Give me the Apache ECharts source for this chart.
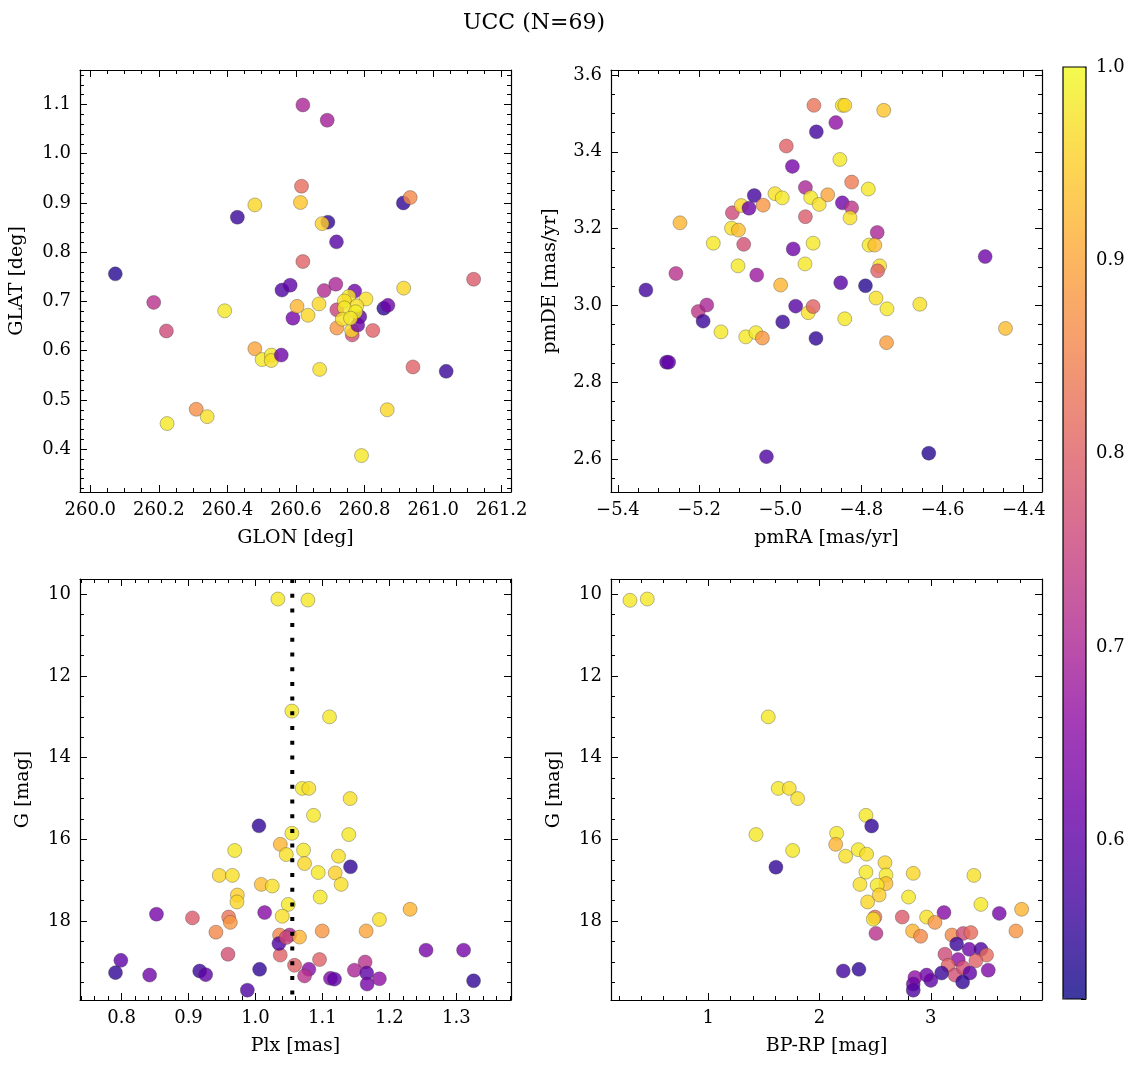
<!DOCTYPE html>
<html>
<head>
<meta charset="utf-8">
<script src="https://cdn.jsdelivr.net/npm/echarts@6/dist/echarts.min.js"></script>
<style>html,body{margin:0;padding:0;background:#fff}#c{width:1136px;height:1067px}</style>
</head>
<body>
<div id="c"></div>
<script>
// ---- data: [x, y, membership probability] ----
const posData = [ // GLON, GLAT
[260.073,0.756,0.54],[260.185,0.698,0.72],[260.222,0.640,0.76],[260.224,0.452,0.98],[260.309,0.481,0.87],
[260.341,0.466,0.97],[260.392,0.681,0.98],[260.429,0.871,0.56],[260.480,0.896,0.96],[260.480,0.604,0.90],
[260.501,0.582,0.98],[260.528,0.591,0.98],[260.528,0.580,0.97],[260.557,0.591,0.62],[260.559,0.723,0.58],
[260.583,0.733,0.60],[260.591,0.666,0.63],[260.620,1.099,0.70],[260.691,1.068,0.69],[260.616,0.934,0.82],
[260.613,0.901,0.94],[260.693,0.861,0.55],[260.676,0.858,0.95],[260.718,0.821,0.59],[260.620,0.781,0.80],
[260.913,0.900,0.55],[260.933,0.911,0.86],[261.118,0.745,0.79],[260.914,0.727,0.96],[260.682,0.722,0.71],
[260.716,0.735,0.70],[260.603,0.690,0.92],[260.667,0.695,0.96],[260.635,0.672,0.96],[260.669,0.562,0.97],
[260.866,0.480,0.96],[260.791,0.387,0.98],[260.941,0.567,0.80],[261.038,0.558,0.56],[260.856,0.686,0.55],
[260.868,0.692,0.62],[260.824,0.641,0.80],[260.719,0.646,0.88],[260.764,0.632,0.77],[260.762,0.641,0.96],
[260.771,0.721,0.62],[260.786,0.669,0.60],[260.780,0.652,0.62],[260.719,0.683,0.75],[260.754,0.710,0.98],
[260.804,0.705,0.97],[260.741,0.701,0.97],[260.777,0.691,0.97],[260.741,0.687,0.98],[260.774,0.679,0.99],
[260.735,0.664,0.97],[260.759,0.666,0.98]
];
const pmData = [ // pmRA, pmDE
[-5.331,3.040,0.57],[-5.280,2.852,0.60],[-5.275,2.852,0.60],[-5.257,3.083,0.72],[-5.247,3.215,0.92],
[-5.202,2.984,0.73],[-5.181,3.001,0.70],[-5.190,2.959,0.56],[-5.165,3.162,0.98],[-5.146,2.931,0.98],
[-5.118,3.241,0.76],[-5.120,3.201,0.97],[-5.103,3.196,0.93],[-5.096,3.260,0.96],[-5.104,3.103,0.98],
[-5.090,3.159,0.77],[-5.085,2.918,0.98],[-5.077,3.253,0.62],[-5.064,3.286,0.57],[-5.060,2.929,0.98],
[-5.058,3.079,0.68],[-5.044,2.915,0.88],[-5.042,3.261,0.88],[-5.034,2.606,0.58],[-5.013,3.291,0.97],
[-4.999,3.053,0.92],[-4.995,3.280,0.98],[-4.994,2.957,0.56],[-4.985,3.415,0.80],[-4.970,3.362,0.63],
[-4.968,3.147,0.62],[-4.962,2.998,0.59],[-4.939,3.108,0.98],[-4.938,3.231,0.79],[-4.938,3.307,0.70],
[-4.931,2.981,0.97],[-4.925,3.281,0.98],[-4.919,2.997,0.80],[-4.919,3.162,0.98],[-4.917,3.521,0.83],
[-4.911,3.452,0.57],[-4.912,2.914,0.55],[-4.904,3.263,0.97],[-4.863,3.476,0.66],[-4.847,3.521,0.98],
[-4.841,3.521,0.96],[-4.745,3.508,0.94],[-4.853,3.380,0.98],[-4.824,3.321,0.84],[-4.783,3.303,0.98],
[-4.883,3.288,0.90],[-4.847,3.267,0.62],[-4.824,3.254,0.73],[-4.828,3.228,0.97],[-4.761,3.190,0.70],
[-4.781,3.157,0.98],[-4.767,3.157,0.93],[-4.495,3.127,0.62],[-4.755,3.103,0.97],[-4.760,3.090,0.80],
[-4.851,3.059,0.59],[-4.790,3.051,0.54],[-4.764,3.019,0.97],[-4.656,3.003,0.97],[-4.737,2.991,0.98],
[-4.841,2.965,0.98],[-4.445,2.940,0.93],[-4.738,2.903,0.89],[-4.634,2.615,0.54]
];
const plxData = [ // Plx, G
[1.0335,10.115,0.98],[1.0544,12.858,0.98],[1.0052,15.667,0.55],[0.969,16.27,0.98],[1.0371,16.12,0.92],
[1.046,16.37,0.97],[1.0544,15.85,0.98],[0.946,16.88,0.96],[0.9655,16.88,0.97],[0.973,17.36,0.95],
[0.9724,17.53,0.96],[1.0087,17.10,0.93],[1.0251,17.14,0.97],[1.049,17.59,0.98],[1.040,17.88,0.97],
[0.8522,17.83,0.63],[0.9059,17.92,0.79],[0.960,17.90,0.83],[0.9625,18.03,0.88],[1.0137,17.79,0.65],
[0.941,18.27,0.86],[1.036,18.34,0.86],[0.959,18.81,0.77],[1.037,18.83,0.80],[1.035,18.55,0.58],
[0.799,18.96,0.60],[0.791,19.26,0.55],[0.842,19.32,0.62],[0.9167,19.22,0.56],[0.9257,19.31,0.60],
[1.0062,19.18,0.55],[0.9879,19.69,0.58],[1.051,18.34,0.70],[1.046,18.40,0.76],[1.0658,18.39,0.92],
[1.0584,19.08,0.80],[1.0797,19.18,0.65],[1.0733,19.34,0.72],[1.0957,18.94,0.80],[1.0997,18.24,0.88],
[1.0967,17.41,0.98],[1.112,19.40,0.64],[1.118,19.42,0.60],[1.0783,10.14,0.98],[1.1106,13.00,0.98],
[1.0699,14.75,0.98],[1.0797,14.75,0.97],[1.1414,15.00,0.97],[1.0867,15.41,0.98],[1.1394,15.88,0.98],
[1.0718,16.26,0.98],[1.0733,16.59,0.96],[1.124,16.41,0.97],[1.1419,16.67,0.55],[1.0937,16.81,0.98],
[1.1191,16.82,0.95],[1.128,17.10,0.97],[1.2309,17.71,0.92],[1.1851,17.96,0.97],[1.1653,18.24,0.90],
[1.2547,18.71,0.63],[1.3108,18.71,0.63],[1.1478,19.20,0.70],[1.1638,19.00,0.72],[1.1662,19.27,0.60],
[1.1668,19.54,0.63],[1.1851,19.41,0.66],[1.3257,19.46,0.55]
];
const plxLine = 1.055;
const cmdData = [ // BP-RP, G
[0.2965,10.147,0.98],[0.452,10.115,0.98],[1.539,13.00,0.98],[1.629,14.75,0.98],[1.728,14.75,0.97],
[1.803,15.00,0.97],[1.429,15.88,0.98],[1.758,16.27,0.98],[1.608,16.68,0.55],[2.417,15.41,0.98],
[2.468,15.67,0.55],[2.154,15.85,0.98],[2.145,16.12,0.92],[2.234,16.41,0.97],[2.348,16.25,0.98],
[2.423,16.36,0.97],[2.588,16.57,0.96],[2.417,16.80,0.98],[2.597,16.87,0.98],[2.597,17.08,0.93],
[2.363,17.10,0.97],[2.518,17.12,0.98],[2.536,17.36,0.95],[2.432,17.53,0.96],[2.842,16.83,0.96],
[3.387,16.88,0.97],[2.800,17.41,0.98],[3.450,17.59,0.98],[3.816,17.71,0.92],[3.615,17.81,0.63],
[3.118,17.79,0.65],[2.962,17.90,0.97],[2.743,17.90,0.79],[2.498,17.90,0.83],[2.483,17.95,0.97],
[3.037,18.03,0.88],[2.507,18.30,0.72],[2.836,18.24,0.92],[2.908,18.37,0.86],[3.765,18.24,0.88],
[3.190,18.34,0.86],[3.291,18.30,0.76],[3.360,18.28,0.82],[3.232,18.56,0.56],[3.345,18.69,0.62],
[3.450,18.69,0.58],[3.127,18.81,0.76],[3.501,18.83,0.82],[3.405,18.97,0.80],[3.246,18.94,0.66],
[3.156,19.08,0.80],[3.516,19.20,0.64],[3.217,19.32,0.77],[3.291,19.14,0.77],[3.351,19.27,0.60],
[3.286,19.49,0.55],[3.097,19.27,0.56],[3.000,19.45,0.60],[2.962,19.32,0.62],[2.857,19.38,0.66],
[2.842,19.54,0.62],[2.842,19.69,0.58],[2.213,19.22,0.57],[2.354,19.18,0.55]
];
const probMin = 0.518, probMax = 1.0;
const plasma = ['#0d0887','#41049d','#6a00a8','#8f0da4','#b12a90','#cc4778','#e16462','#f2844b','#fca636','#fcce25','#f0f921'];
const plasmaFaded = ['#3d399f','#6736b1','#8833b9','#a53db6','#c155a6','#d66c93','#e78381','#f59d6f','#fdb85e','#fdd851','#f3fa4d'];

const FONT = 'DejaVu Serif';
const grids = [
  {left: 80, top: 70, width: 431, height: 422},
  {left: 611, top: 70, width: 431, height: 422},
  {left: 80, top: 579, width: 431, height: 421},
  {left: 611, top: 579, width: 431, height: 421},
  {left: 1063, top: 67, width: 23, height: 932}
];
const axesSpec = [
  {x: [259.97, 261.227, 0.2, 4, v => v.toFixed(1), 'GLON [deg]'], y: [0.313, 1.17, 0.1, 5, v => v.toFixed(1), 'GLAT [deg]', false, 53]},
  {x: [-5.417, -4.355, 0.2, 4, v => v.toFixed(1).replace('-', '\u2212'), 'pmRA [mas/yr]'], y: [2.514, 3.613, 0.2, 4, v => v.toFixed(1), 'pmDE [mas/yr]', false, 51]},
  {x: [0.738, 1.3816, 0.1, 5, v => v.toFixed(1), 'Plx [mas]'], y: [9.625, 19.93, 2, 4, v => v.toFixed(0), 'G [mag]', true, 47]},
  {x: [0.126, 3.999, 1, 5, v => v.toFixed(0), 'BP-RP [mag]'], y: [9.625, 19.93, 2, 4, v => v.toFixed(0), 'G [mag]', true, 47]}
];
function axisBase(gi, min, max, iv, ms, pos, labels, fmt, inverse) {
  return {
    type: 'value', gridIndex: gi, min: min, max: max, minInterval: iv, maxInterval: iv,
    position: pos, inverse: !!inverse, scale: true,
    axisLine: {show: true, onZero: false, lineStyle: {color: '#000', width: 1.2}},
    axisTick: {show: true, inside: true, length: 7, lineStyle: {color: '#000', width: 1}},
    minorTick: {show: true, splitNumber: ms, length: 4, lineStyle: {color: '#000', width: 1}},
    splitLine: {show: false}, minorSplitLine: {show: false},
    axisLabel: {show: labels, formatter: fmt, color: '#000', fontFamily: FONT, fontSize: 18, margin: 9,
      showMinLabel: false, showMaxLabel: false}
  };
}
const xAxes = [], yAxes = [];
axesSpec.forEach((s, i) => {
  const xb = axisBase(i, s.x[0], s.x[1], s.x[2], s.x[3], 'bottom', true, s.x[4]);
  xb.name = s.x[5]; xb.nameLocation = 'middle'; xb.nameGap = 37;
  xb.nameTextStyle = {color: '#000', fontFamily: FONT, fontSize: 19};
  xAxes.push(xb);
  const yl = axisBase(i, s.y[0], s.y[1], s.y[2], s.y[3], 'left', true, s.y[4], s.y[6]);
  yl.name = s.y[5]; yl.nameLocation = 'middle'; yl.nameGap = s.y[7];
  yl.nameTextStyle = {color: '#000', fontFamily: FONT, fontSize: 19};
  yAxes.push(yl);
});
axesSpec.forEach((s, i) => {
  xAxes.push(axisBase(i, s.x[0], s.x[1], s.x[2], s.x[3], 'top', false, s.x[4]));
  yAxes.push(axisBase(i, s.y[0], s.y[1], s.y[2], s.y[3], 'right', false, s.y[4], s.y[6]));
});
// colorbar axis
xAxes.push({type: 'value', gridIndex: 4, show: false, min: 0, max: 1});
const cb = axisBase(4, probMin, probMax, 0.1, 5, 'right', true, v => v.toFixed(1));
cb.axisTick.length = 5; cb.minorTick.length = 4;
cb.axisLabel.showMaxLabel = true; cb.axisLabel.margin = 10;
cb.axisLine.show = false;
yAxes.push(cb);

const sym = {symbolSize: 14, itemStyle: {opacity: 0.8, borderColor: 'rgba(50,50,50,0.7)', borderWidth: 0.6}};
const datasets = [posData, pmData, plxData, cmdData];
const series = datasets.map((d, i) => Object.assign({
  type: 'scatter', xAxisIndex: i, yAxisIndex: i, data: d, symbol: 'circle',
  emphasis: {disabled: true}, animation: false
}, JSON.parse(JSON.stringify(sym))));
// vertical dotted reference line at the parallax value
series.push({
  type: 'line', xAxisIndex: 2, yAxisIndex: 2, symbol: 'none', silent: true, z: 5, animation: false,
  data: [[plxLine, axesSpec[2].y[0]], [plxLine, axesSpec[2].y[1]]],
  lineStyle: {color: '#000', width: 4, type: [4, 10.7]}
});

const chart = echarts.init(document.getElementById('c'), null, {renderer: 'canvas'});
chart.setOption({
  backgroundColor: '#fff',
  animation: false,
  title: {text: 'UCC (N=69)', left: 458, top: 7,
    textStyle: {fontFamily: FONT, fontSize: 22, fontWeight: 'normal', color: '#000'}},
  grid: grids.map((g, i) => Object.assign({show: i === 4, borderColor: '#000', borderWidth: 1.2, z: 10,
    backgroundColor: 'transparent', containLabel: false}, g)),
  xAxis: xAxes,
  yAxis: yAxes,
  visualMap: [
    {type: 'continuous', show: false, seriesIndex: [0, 1, 2, 3], dimension: 2,
      min: probMin, max: probMax, inRange: {color: plasma}},
    {type: 'continuous', show: true, seriesIndex: [], dimension: 2, min: probMin, max: probMax,
      inRange: {color: plasmaFaded}, calculable: false, text: null, showLabel: false, padding: 0,
      left: 1063, top: 67, itemWidth: 23, itemHeight: 932, hoverLink: false, realtime: false}
  ],
  series: series
});
</script>
</body>
</html>
